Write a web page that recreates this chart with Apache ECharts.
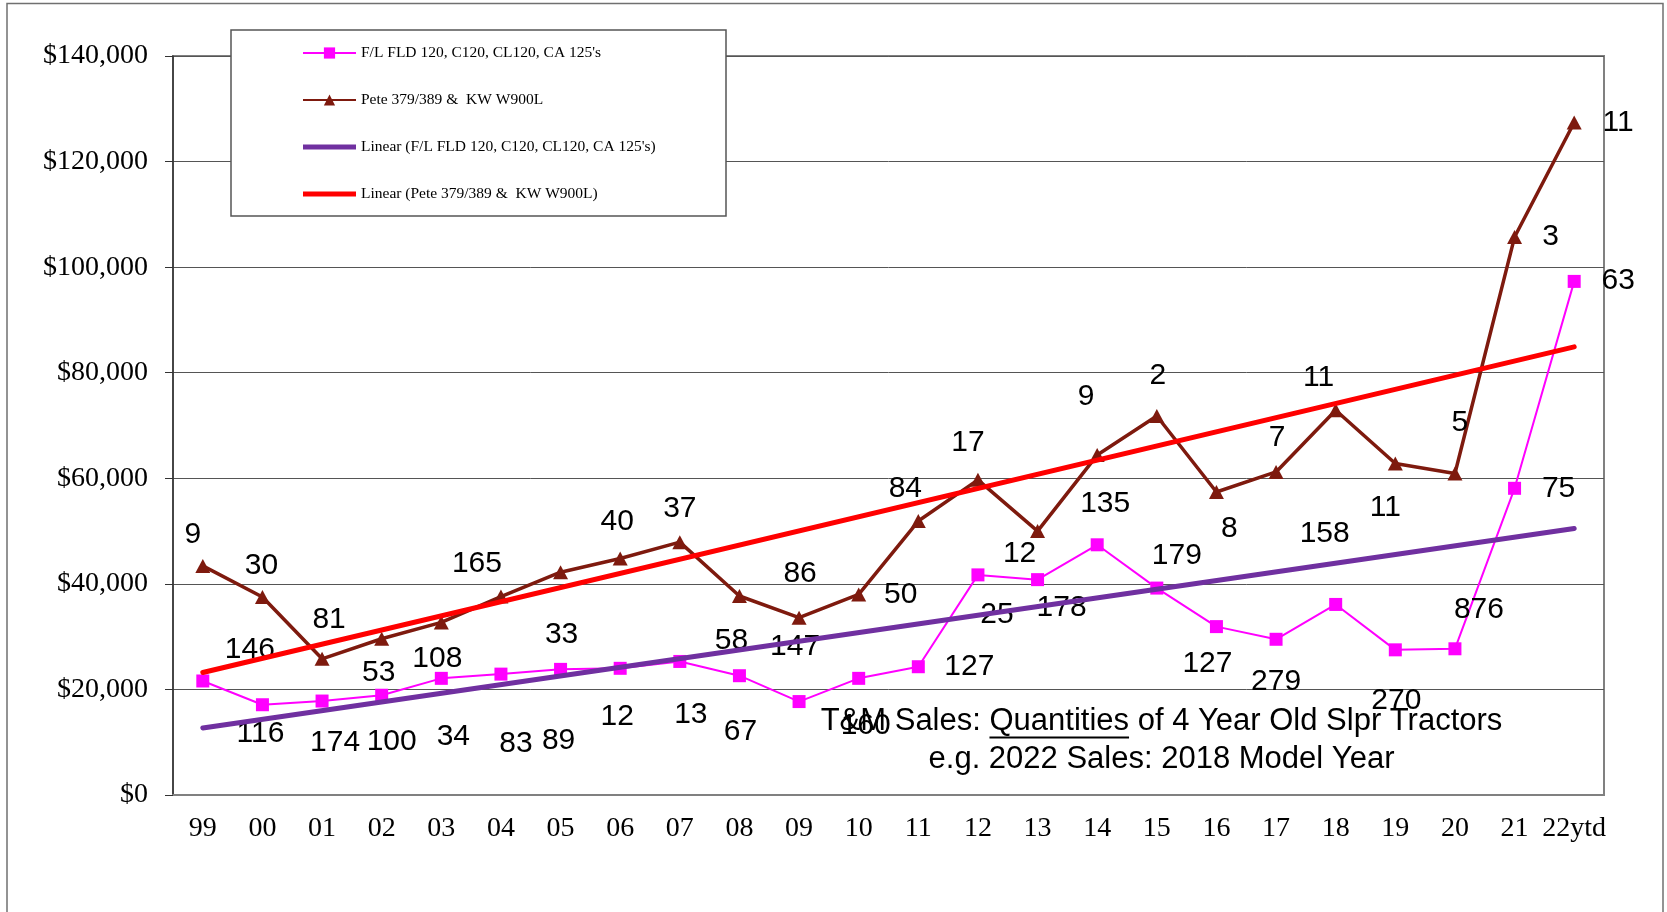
<!DOCTYPE html>
<html>
<head>
<meta charset="utf-8">
<title>T&amp;M Sales - 4 Year Old Sleeper Tractors</title>
<script src="https://cdn.jsdelivr.net/npm/echarts@6/dist/echarts.min.js"></script>
<style>
	html, body { margin: 0; padding: 0; background: #fff; }
	#main { width: 1667px; height: 912px; }
</style>
</head>
<body>
<div id="main"></div>
<script type="text/javascript">
var years = ['99', '00', '01', '02', '03', '04', '05', '06', '07', '08', '09', '10',
	'11', '12', '13', '14', '15', '16', '17', '18', '19', '20', '21', '22ytd'];

// F/L FLD120 etc: avg price and units sold
var flPrice = [21600, 17100, 17800, 18900, 22100, 22900, 23800, 24000, 25300, 22600, 17700, 22100,
	24300, 41700, 40800, 47400, 39200, 31900, 29500, 36100, 27500, 27700, 58100, 97300];
var flQty = [146, 116, 174, 100, 34, 83, 89, 12, 13, 67, 147, 160,
	127, 25, 178, 135, 179, 127, 279, 158, 270, 876, 75, 63];

// Pete 379/389 & KW W900L
var petePrice = [43400, 37500, 25800, 29600, 32700, 37600, 42200, 44800, 47900, 37700, 33600, 38000,
	51900, 59700, 50000, 64400, 71800, 57400, 61200, 72900, 62800, 60900, 105700, 127400];
var peteQty = [9, 30, 81, 53, 108, 165, 33, 40, 37, 58, 86, 50,
	84, 17, 12, 9, 2, 8, 7, 11, 11, 5, 3, 11];

// excel linear trendlines, first and last value
var flTrend = [12700, 50500];
var peteTrend = [23200, 84900];

var seriesNames = ["F/L FLD 120, C120, CL120, CA 125's", 'Pete 379/389 &  KW W900L',
	"Linear (F/L FLD 120, C120, CL120, CA 125's)", 'Linear (Pete 379/389 &  KW W900L)'];

// where each quantity label sits, px from its point
var flLabelOffset = [[47, -31], [-2, 29], [13, 42], [10, 46], [12, 58], [15, 70], [-2, 71], [-3, 48],
	[11, 53], [1, 56], [-4, -55], [7, 47], [51, 0], [19, 40], [24, 28], [8, -41],
	[20, -32], [-9, 37], [0, 42], [-11, -71], [1, 51], [24, -39], [44, 0], [44, -1]];
var peteLabelOffset = [[-10, -31], [-1, -31], [7, -39], [-3, 34], [-4, 36], [-24, -33], [1, 62], [-3, -37],
	[0, -33], [-8, 45], [1, -44], [42, 0], [-13, -32], [-10, -37], [-18, 23], [-11, -58],
	[1, -40], [13, 37], [1, -34], [-17, -32], [-10, 44], [5, -51], [36, 0], [44, 0]];

function withLabels(values, qty, offsets) {
	return values.map(function (v, i) {
		return { value: v, label: { formatter: String(qty[i]), offset: offsets[i] } };
	});
}

var serif = "'Liberation Serif', 'Times New Roman', serif";
var sans = "'Liberation Sans', Arial, sans-serif";
var labelStyle = { show: true, position: 'inside', color: '#000', fontFamily: sans, fontSize: 30 };

// note text, underline under "Quantities" placed by measuring the text
var noteFont = '31px ' + sans;
var note1a = 'T&M Sales: ', note1b = 'Quantities', note1c = ' of 4 Year Old Slpr Tractors';
var note2 = 'e.g. 2022 Sales: 2018 Model Year';
var ctx = document.createElement('canvas').getContext('2d');
ctx.font = noteFont;
var wa = ctx.measureText(note1a).width, wb = ctx.measureText(note1b).width, wc = ctx.measureText(note1c).width;
var noteX = 1161.5;
var noteLeft = noteX - (wa + wb + wc) / 2;

var option = {
	animation: false,
	backgroundColor: '#fff',
	grid: { left: 173, right: 63, top: 56, bottom: 117, show: true, borderColor: '#808080', borderWidth: 2 },
	legend: {
		orient: 'vertical',
		left: 302,
		top: 45,
		padding: 0,
		itemGap: 31,
		itemWidth: 53,
		itemHeight: 14,
		z: 12,
		textStyle: { fontFamily: serif, fontSize: 15.5, lineHeight: 16, color: '#000' },
		data: [
			{ name: seriesNames[0] },
			{ name: seriesNames[1] },
			{ name: seriesNames[2], icon: 'path://M0,0 H53 V5 H0 Z' },
			{ name: seriesNames[3], icon: 'path://M0,0 H53 V5 H0 Z' }
		]
	},
	xAxis: {
		type: 'category',
		data: years,
		axisLine: { lineStyle: { color: '#808080', width: 2 } },
		axisTick: { length: 8, lineStyle: { color: '#444' } },
		axisLabel: { fontFamily: serif, fontSize: 28, color: '#000', margin: 20, interval: 0 },
		splitLine: { show: false }
	},
	yAxis: {
		type: 'value',
		min: 0,
		max: 140000,
		interval: 20000,
		axisLine: { show: true, lineStyle: { color: '#333', width: 1.5 } },
		axisTick: { show: true, length: 8, lineStyle: { color: '#333' } },
		axisLabel: {
			fontFamily: serif, fontSize: 28, color: '#000', margin: 25,
			formatter: function (v) { return '$' + v.toLocaleString('en-US'); }
		},
		splitLine: { lineStyle: { color: '#555', width: 1 } }
	},
	series: [
		{
			name: seriesNames[0],
			type: 'line',
			z: 2,
			symbol: 'rect',
			symbolSize: 13,
			itemStyle: { color: '#FF00FF' },
			lineStyle: { color: '#FF00FF', width: 2 },
			label: labelStyle,
			data: withLabels(flPrice, flQty, flLabelOffset)
		},
		{
			name: seriesNames[1],
			type: 'line',
			z: 2,
			symbol: 'triangle',
			symbolSize: [15, 14],
			itemStyle: { color: '#7E1A0E' },
			lineStyle: { color: '#7E1A0E', width: 3.5 },
			label: labelStyle,
			data: withLabels(petePrice, peteQty, peteLabelOffset)
		},
		{
			name: seriesNames[2],
			type: 'line',
			z: 3,
			symbol: 'none',
			itemStyle: { color: '#7030A0' },
			lineStyle: { color: '#7030A0', width: 5, cap: 'round' },
			data: [[years[0], flTrend[0]], [years[years.length - 1], flTrend[1]]]
		},
		{
			name: seriesNames[3],
			type: 'line',
			z: 3,
			symbol: 'none',
			itemStyle: { color: '#FF0000' },
			lineStyle: { color: '#FF0000', width: 5, cap: 'round' },
			data: [[years[0], peteTrend[0]], [years[years.length - 1], peteTrend[1]]]
		}
	],
	graphic: [
		{
			type: 'rect', z: 0, silent: true,
			shape: { x: 7, y: 3.5, width: 1656, height: 950 },
			style: { fill: null, stroke: '#707070', lineWidth: 1.5 }
		},
		{
			type: 'rect', z: 10, silent: true,
			shape: { x: 231, y: 30, width: 495, height: 186 },
			style: { fill: '#fff', stroke: '#555', lineWidth: 1.5 }
		},
		{
			type: 'text', z: 5, silent: true, x: noteX, y: 721,
			style: { text: note1a + note1b + note1c, font: noteFont, fill: '#000', align: 'center', verticalAlign: 'middle' }
		},
		{
			type: 'text', z: 5, silent: true, x: noteX, y: 759,
			style: { text: note2, font: noteFont, fill: '#000', align: 'center', verticalAlign: 'middle' }
		},
		{
			type: 'line', z: 5, silent: true,
			shape: { x1: noteLeft + wa, y1: 737.5, x2: noteLeft + wa + wb, y2: 737.5 },
			style: { stroke: '#000', lineWidth: 2 }
		}
	]
};

var myChart = echarts.init(document.getElementById('main'));
myChart.setOption(option);
</script>
</body>
</html>
